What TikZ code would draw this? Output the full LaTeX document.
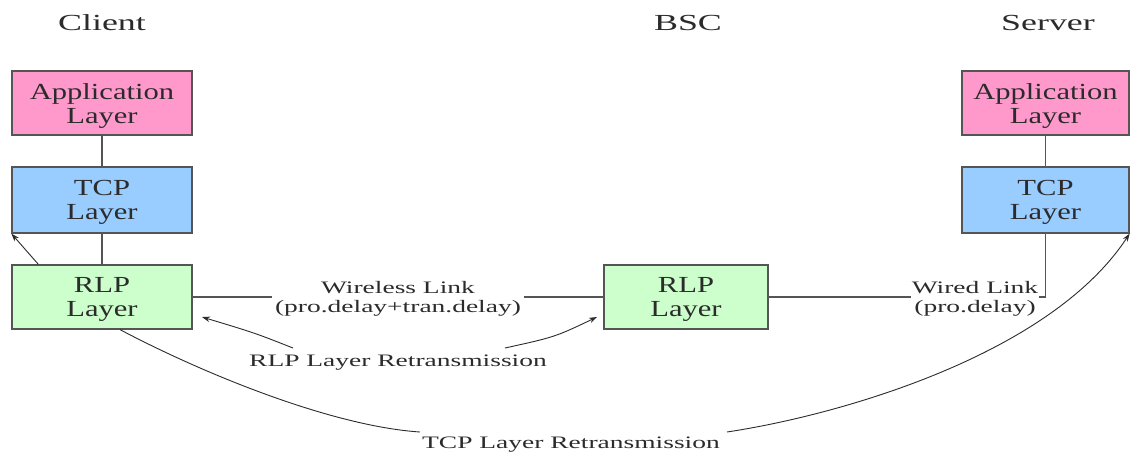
\documentclass[tikz,border=0pt]{standalone}
\usepackage{fontspec}
\setmainfont{Liberation Serif}
\newfontfamily\boxfont[FakeStretch=1.33]{Liberation Serif}
\newfontfamily\headfont[FakeStretch=1.56]{Liberation Serif}
\newfontfamily\notefont[FakeStretch=1.57]{Liberation Serif}
\usetikzlibrary{arrows.meta,calc}

\definecolor{apppink}{HTML}{FF99CC}
\definecolor{tcpblue}{HTML}{99CCFF}
\definecolor{rlpgreen}{HTML}{CCFFCC}
\definecolor{edgegray}{HTML}{555555}
\definecolor{ink}{HTML}{2B2B2B}

\begin{document}
\begin{tikzpicture}[x=1pt,y=-1pt,
  layerbox/.style={draw=edgegray, line width=1.2pt, minimum height=64pt, inner sep=0pt},
  boxtext/.style={align=center, inner sep=0pt, text=ink,
    font=\boxfont\fontsize{23}{24}\selectfont},
  headtext/.style={anchor=base, inner sep=0pt, text=ink,
    font=\headfont\fontsize{23}{24}\selectfont},
  notetext/.style={align=center, inner sep=0pt, text=ink,
    font=\notefont\fontsize{17.5}{19}\selectfont},
  link/.style={draw=edgegray, line width=1.1pt},
  retx/.style={draw=ink, line width=0.9pt, -{Stealth[length=8pt,width=5.5pt]}},
]
\useasboundingbox (0,0) rectangle (1130,451);

% column headings
\node[headtext] (hclient) at (102,30) {Client};
\node[headtext] (hbsc)    at (688,30) {BSC};
\node[headtext] (hserver) at (1048,30) {Server};

% client stack
\node[layerbox, fill=apppink,  minimum width=180pt] (capp) at (102,103) {};
\node[layerbox, fill=tcpblue,  minimum width=180pt, minimum height=66pt] (ctcp) at (102,200) {};
\node[layerbox, fill=rlpgreen, minimum width=180pt] (crlp) at (102,297) {};
\node[boxtext] (capp-t) at ($(capp)+(0,2.5)$) {Application\\Layer};
\node[boxtext] (ctcp-t) at ($(ctcp)+(0,2.5)$) {TCP\\Layer};
\node[boxtext] (crlp-t) at ($(crlp)+(0,2.5)$) {RLP\\Layer};

% base station controller
\node[layerbox, fill=rlpgreen, minimum width=164pt] (brlp) at (686,297) {};
\node[boxtext] (brlp-t) at ($(brlp)+(0,2.5)$) {RLP\\Layer};

% server stack
\node[layerbox, fill=apppink, minimum width=167pt] (sapp) at (1045.5,103) {};
\node[layerbox, fill=tcpblue, minimum width=167pt, minimum height=66pt] (stcp) at (1045.5,200) {};
\node[boxtext] (sapp-t) at ($(sapp)+(0,2.5)$) {Application\\Layer};
\node[boxtext] (stcp-t) at ($(stcp)+(0,2.5)$) {TCP\\Layer};

% stack connections
\draw[link] (capp.south) -- (ctcp.north);
\draw[link] (ctcp.south) -- (crlp.north);
\draw[link] (sapp.south) -- (stcp.north);

% wireless link between the RLP layers
\draw[link] (crlp.east) -- node[notetext, fill=white, inner xsep=3pt, yshift=-1.5pt] (wless)
  {Wireless Link\\(pro.delay+tran.delay)} (brlp.west);

% wired link from the BSC to the server
\coordinate (wcorner) at (stcp.south |- brlp.east);
\node[notetext, fill=white, inner xsep=1pt] (wired) at (975,298.5) {Wired Link\\(pro.delay)};
\draw[link] (brlp.east) -- (wired.west |- brlp.east);
\draw[link] (wired.east |- wcorner) -- (wcorner) -- (stcp.south);

% RLP layer retransmission
\node[notetext, anchor=base] (rlpretx) at (398,366) {RLP Layer Retransmission};
\coordinate (rl-a) at (293,348);
\coordinate (rl-b) at (505,348);
\draw[retx] (rl-a) .. controls (255,333) .. (202,317);
\draw[retx] (rl-b) .. controls (555,337) .. (597,317);

% TCP layer retransmission
\node[notetext, anchor=base] (tcpretx) at (571,448) {TCP Layer Retransmission};
\coordinate (tc-start) at (120,329.6);
\draw[draw=ink, line width=0.9pt] (tc-start) .. controls (200,372) and (330,426) .. (420,432);
\draw[retx] (727,432) .. controls (840,415) and (1050,355) .. (stcp.south east);

% hand-off from RLP up to TCP at the client
\draw[retx] ($(crlp.north west)+(27,0)$) -- (ctcp.south west);
\end{tikzpicture}
\end{document}
